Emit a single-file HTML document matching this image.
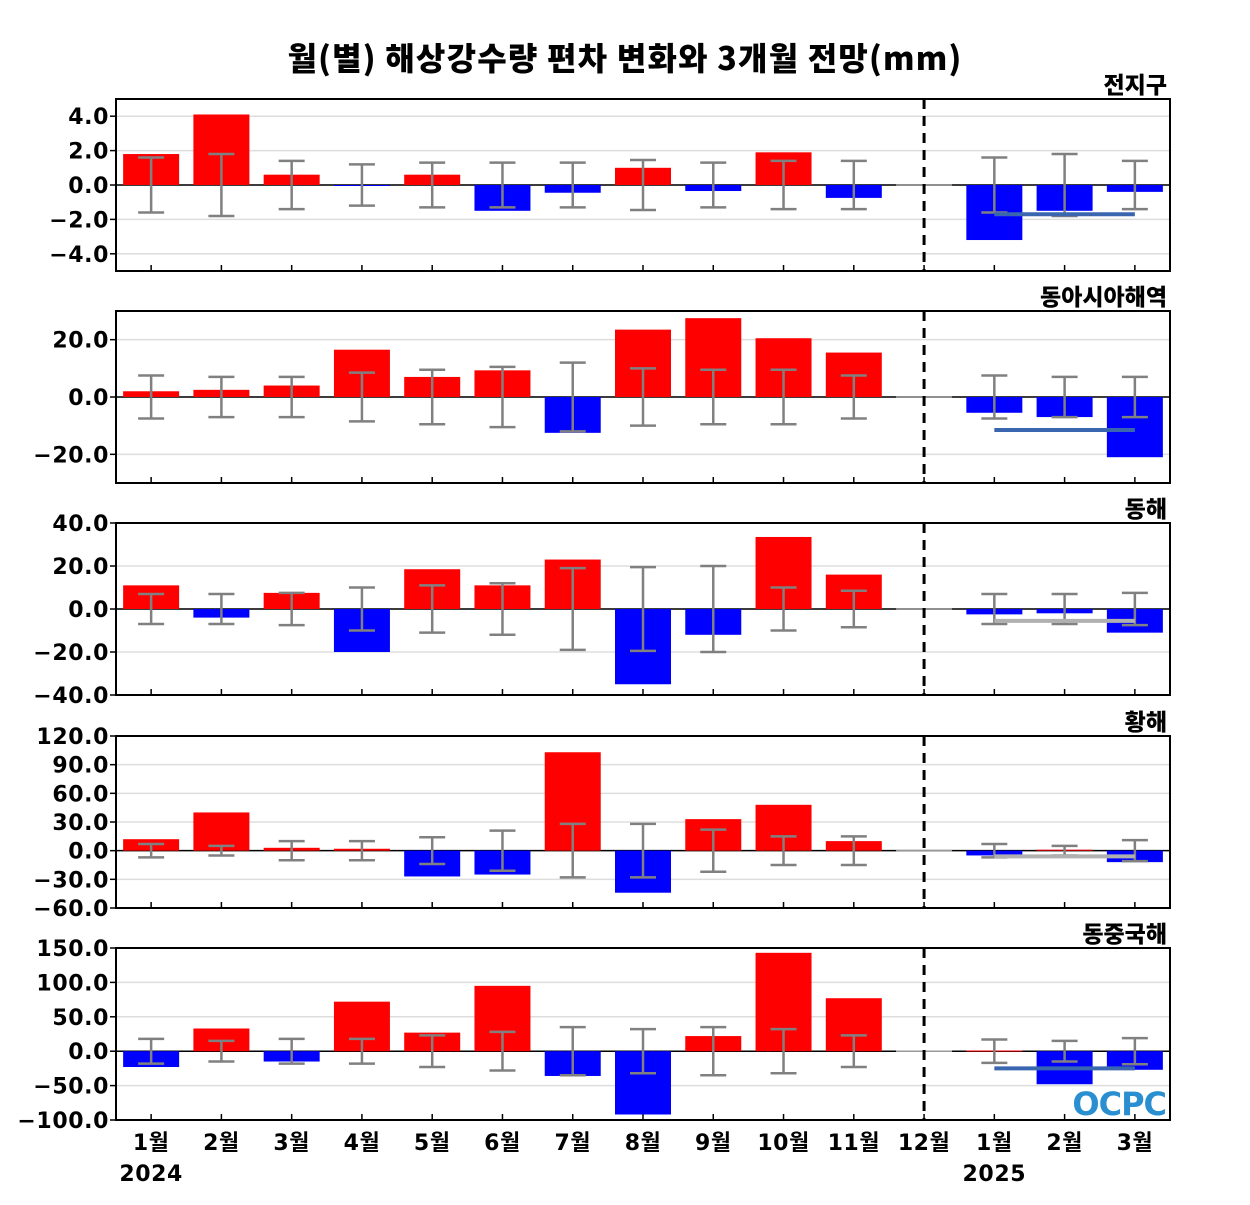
<!DOCTYPE html>
<html><head><meta charset="utf-8"><style>
body{margin:0;background:#fff;}
svg text{font-family:"DejaVu Sans","Liberation Sans","Noto Sans CJK KR",sans-serif;font-weight:bold;}
</style></head><body>
<svg id="chart" width="1250" height="1200" xmlns="http://www.w3.org/2000/svg">
<text x="625" y="70" text-anchor="middle" font-size="32" letter-spacing="1.2" fill="#000" style="font-family:'Noto Sans CJK KR',sans-serif;font-weight:900">월(별) 해상강수량 편차 변화와 3개월 전망(mm)</text>
<g id="panels"></g>
<text x="1166" y="1115" text-anchor="end" font-size="32" fill="#2a8fd0" letter-spacing="-1">OCPC</text>
</svg>
<script>
const months = ["1월","2월","3월","4월","5월","6월","7월","8월","9월","10월","11월","12월","1월","2월","3월"];
const regionNames = ["전지구","동아시아해역","동해","황해","동중국해"];
const valsGlobal = [1.8,4.1,0.6,-0.05,0.6,-1.5,-0.45,1.0,-0.35,1.9,-0.75,0,-3.2,-1.5,-0.4];
const errGlobal = [1.6,1.8,1.4,1.2,1.3,1.3,1.3,1.45,1.3,1.4,1.4,null,1.6,1.8,1.4];
const valsEastAsia = [2,2.5,4,16.5,7,9.3,-12.5,23.5,27.5,20.5,15.5,0,-5.5,-7,-21];
const errEastAsia = [7.5,7,7,8.5,9.5,10.5,12,10,9.5,9.5,7.5,null,7.5,7,7];
const valsEastSea = [11,-4,7.5,-20,18.5,11,23,-35,-12,33.5,16,0,-2.5,-2,-11];
const errEastSea = [7,7,7.5,10,11,12,19,19.5,20,10,8.5,null,7,7,7.5];
const valsYellowSea = [12,40,3,2,-27,-25,103,-44,33,48,10,0,-5,1,-12];
const errYellowSea = [7,5,10,10,14,21,28,28,22,15,15,null,7,5,11];
const valsECS = [-23,33,-15,72,27,95,-36,-92,22,143,77,0,1,-48,-27];
const errECS = [18,15,18,18,23,28,35,32,35,32,23,null,17,15,19];
const forecastLine = [-1.7,-11.5,-5.5,-6,-25];
const lineColors = ["#3a66b0","#3a66b0","#b0b0b0","#b0b0b0","#3a66b0"];
const yMin = [-5,-30,-40,-60,-100];
const yMax = [5,30,40,120,150];
const yTicks = [[-4,-2,0,2,4],[-20,0,20],[-40,-20,0,20,40],[-60,-30,0,30,60,90,120],[-100,-50,0,50,100,150]];
const allVals=[valsGlobal,valsEastAsia,valsEastSea,valsYellowSea,valsECS];
const allErr=[errGlobal,errEastAsia,errEastSea,errYellowSea,errECS];
const tops=[99,311,523,736,948], H=172, X0=116, X1=1170;
const NS="http://www.w3.org/2000/svg";
const g=document.getElementById('panels');
function mk(t,a,p){const e=document.createElementNS(NS,t);for(const k in a)e.setAttribute(k,a[k]);(p||g).appendChild(e);return e;}
const slot=(X1-X0)/months.length;
const xC=i=>X0+slot*(i+0.5);
for(let p=0;p<5;p++){
  const top=tops[p],bot=top+H;
  const y=v=>bot-(v-yMin[p])/(yMax[p]-yMin[p])*H;
  const pg=mk('g',{});
  
  
  const lbl=mk('text',{x:1167,y:top-6,'text-anchor':'end','font-size':23,style:"font-family:'Noto Sans CJK KR',sans-serif;font-weight:900"},pg);
  lbl.textContent=regionNames[p];
  
  
  yTicks[p].forEach(t=>{
    const yy=y(t);
    const gl=mk('line',{x1:X0,x2:X1,y1:yy,y2:yy,stroke:'#dddddd','stroke-width':1.5},pg);
    
    
    mk('line',{x1:X0-6,x2:X0,y1:yy,y2:yy,stroke:'#000','stroke-width':1.5},pg);
    const tl=mk('text',{x:109,y:yy+8,'text-anchor':'end','font-size':22,'letter-spacing':'0.6'},pg);
    tl.textContent=(t<0?'−':'')+Math.abs(t).toFixed(1);
    
    
  });
  mk('line',{x1:X0,x2:X1,y1:y(0),y2:y(0),stroke:'#000','stroke-width':1.5},pg);
  const v=allVals[p],er=allErr[p];
  v.forEach((d,i)=>{
    const w=56,y0=y(0),yv=y(d);
    const r=mk('rect',{x:xC(i)-w/2,y:Math.min(y0,yv),width:w,height:Math.max(Math.abs(yv-y0),i==11?0:1),fill:d>=0?'#ff0000':'#0000ff'},pg);
    
    
    if(i==11){mk('line',{x1:xC(i)-28,x2:xC(i)+28,y1:y0,y2:y0,stroke:'#999','stroke-width':1.5},pg);}
  });
  er.forEach((e,i)=>{
    if(e==null)return;
    const eg=mk('g',{stroke:'#808080','stroke-width':2.5},pg);
    
    
    const x=xC(i);
    mk('line',{x1:x,x2:x,y1:y(e),y2:y(-e)},eg);
    mk('line',{x1:x-13,x2:x+13,y1:y(e),y2:y(e)},eg);
    mk('line',{x1:x-13,x2:x+13,y1:y(-e),y2:y(-e)},eg);
  });
  const fl=mk('line',{x1:xC(12),x2:xC(14),y1:y(forecastLine[p]),y2:y(forecastLine[p]),stroke:lineColors[p],'stroke-width':4},pg);
  
  
  months.forEach((m,i)=>mk('line',{x1:xC(i),x2:xC(i),y1:bot,y2:bot-6,stroke:'#000','stroke-width':1.5},pg));
  const dl=mk('line',{x1:xC(11),x2:xC(11),y1:top,y2:bot,stroke:'#000','stroke-width':3,'stroke-dasharray':'10,7'},pg);
  
  
  const fr=mk('rect',{x:X0,y:top,width:X1-X0,height:H,fill:'none',stroke:'#000','stroke-width':2},pg);
  
  
}
months.forEach((m,i)=>{
  const t=mk('text',{x:xC(i),y:1150,'text-anchor':'middle','font-size':22,'letter-spacing':'0.5',style:"font-family:'DejaVu Sans','Noto Sans CJK KR',sans-serif;font-weight:bold"});
  t.textContent=m;
  
  
});
[["2024",0],["2025",12]].forEach(([yr,i])=>{
  const t=mk('text',{x:xC(i),y:1181,'text-anchor':'middle','font-size':22,'letter-spacing':'0.6'});
  t.textContent=yr;
  
  
});
</script>
</body></html>
